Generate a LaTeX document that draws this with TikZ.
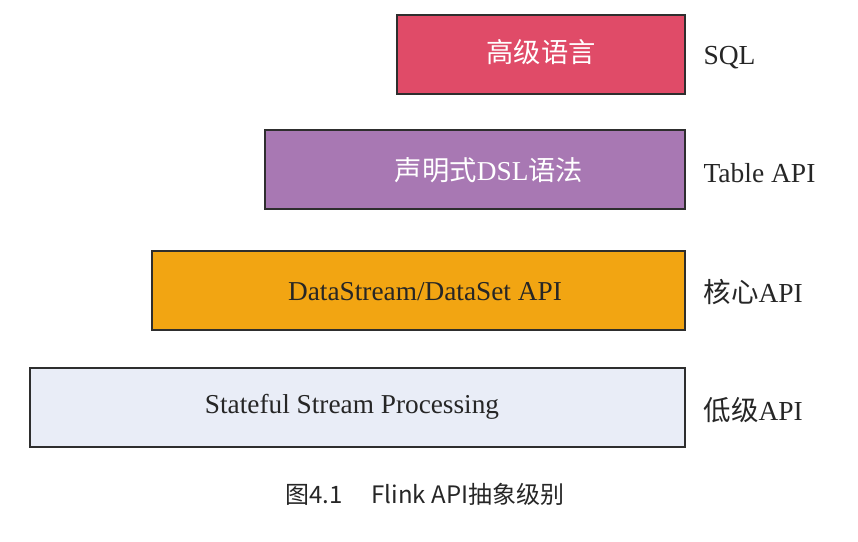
\documentclass[tikz,border=0pt]{standalone}
\usepackage{fontspec}
\setmainfont{Liberation Serif}
\newfontfamily\cjk{Noto Sans CJK SC}
\definecolor{cred}{HTML}{E04B68}
\definecolor{cpurple}{HTML}{A878B3}
\definecolor{corange}{HTML}{F2A512}
\definecolor{clight}{HTML}{E9EDF7}
\definecolor{cborder}{HTML}{2E2E2E}
\begin{document}
\begin{tikzpicture}[x=1pt,y=-1pt,
  layer/.style={draw=cborder,line width=1.6pt,minimum height=79pt,inner sep=0pt},
  lbl/.style={anchor=west,font=\fontsize{27.5}{31}\selectfont,text=black!85},
  boxtxt/.style={font=\fontsize{27.3}{31}\selectfont}]
\useasboundingbox (0,0) rectangle (858,541);
\node[layer,fill=cred,minimum width=288pt] (l1) at (541,54.5) {};
\node[layer,fill=cpurple,minimum width=420pt] (l2) at (475,169.5) {};
\node[layer,fill=corange,minimum width=533pt] (l3) at (418.5,290.5) {};
\node[layer,fill=clight,minimum width=655pt] (l4) at (357.5,407.5) {};
\node[boxtxt,text=white] (t1) at (541,52) {\cjk 高级语言};
\node[boxtxt,text=white] (t2) at (489,170) {\cjk 声明式\rmfamily DSL\cjk 语法};
\node[boxtxt,text=black!85] (t3) at (425,292) {DataStream/DataSet API};
\node[boxtxt,text=black!85] (t4) at (352,407) {Stateful Stream Processing};
\node[lbl] (r1) at (700,58) {SQL};
\node[lbl] (r2) at (700,173) {Table API};
\node[lbl] (r3) at (700,292) {{\cjk 核心}API};
\node[lbl] (r4) at (700,410) {{\cjk 低级}API};
\node[font=\cjk\fontsize{24}{28}\selectfont,text=black!85] (cap) at (425,494) {图4.1\hspace{1.2em}Flink API抽象级别};
\end{tikzpicture}
\end{document}
